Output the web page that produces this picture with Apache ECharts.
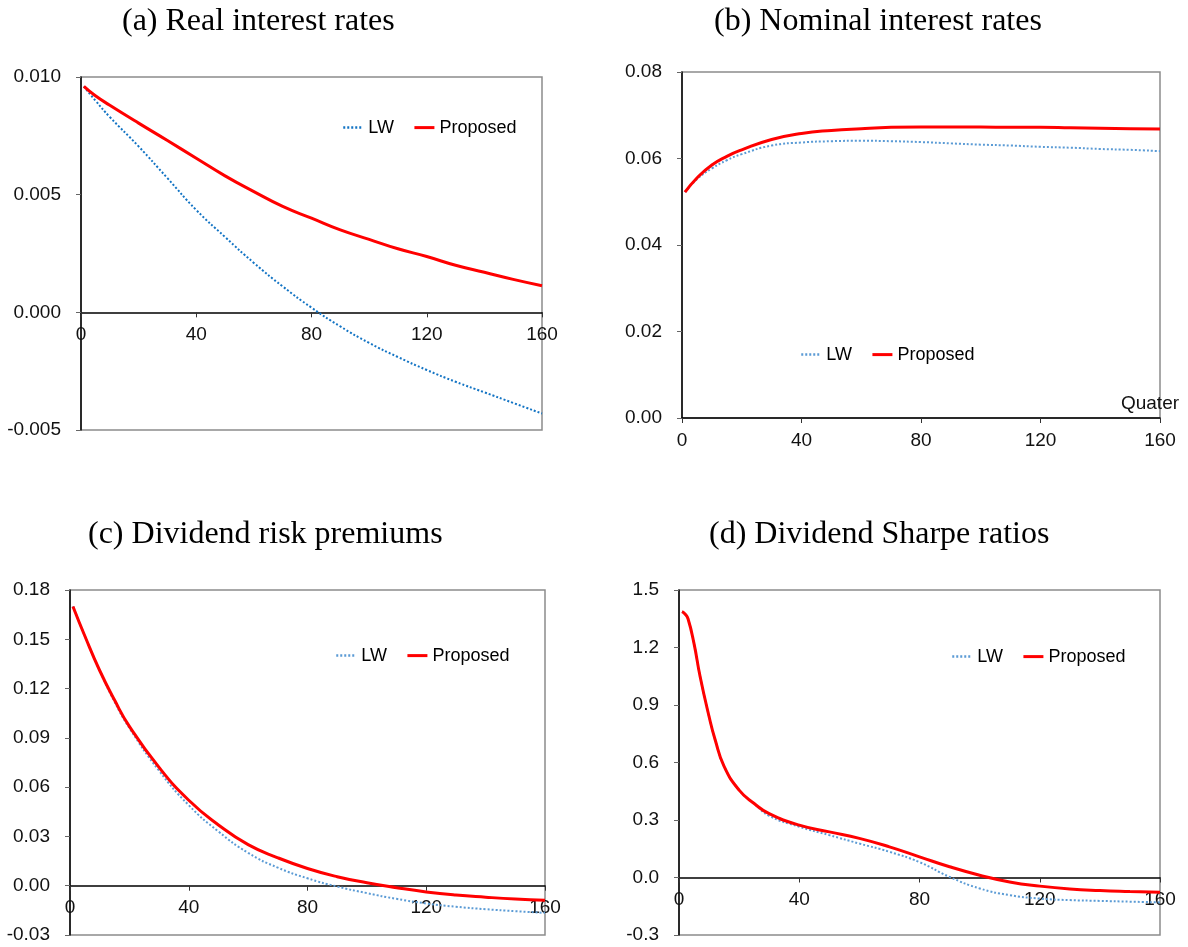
<!DOCTYPE html>
<html>
<head>
<meta charset="utf-8">
<script src="https://cdn.jsdelivr.net/npm/echarts@6/dist/echarts.min.js"></script>
<style>
  html, body { margin: 0; padding: 0; background: #fff; }
  #container { width: 1188px; height: 947px; }
</style>
</head>
<body>
<div id="container"></div>
<script>
// quarters sampled for each panel
var quartersA = [1, 5, 10, 20, 30, 40, 50, 60, 70, 80, 90, 100, 110, 120, 130, 140, 150, 160];
var realLW = [0.0096, 0.0090, 0.0083, 0.00705, 0.0057, 0.00435, 0.0032, 0.0021, 0.0011, 0.0002, -0.0006, -0.0013, -0.0019, -0.00245, -0.00295, -0.0034, -0.00385, -0.0043];
var realProposed = [0.0096, 0.0092, 0.0088, 0.00804, 0.0073, 0.00655, 0.0058, 0.00513, 0.0045, 0.0040, 0.0035, 0.0031, 0.0027, 0.00237, 0.0020, 0.0017, 0.0014, 0.00113];

var quartersB = [1, 5, 10, 15, 20, 30, 40, 50, 60, 70, 80, 90, 100, 110, 120, 130, 140, 150, 160];
var nominalLW = [0.0522, 0.0552, 0.0577, 0.0596, 0.0610, 0.0630, 0.0637, 0.0640, 0.0641, 0.0640, 0.0638, 0.0635, 0.0632, 0.0630, 0.0627, 0.0625, 0.0622, 0.0620, 0.0617];
var nominalProposed = [0.0522, 0.0555, 0.0585, 0.0605, 0.0620, 0.0644, 0.0658, 0.0665, 0.0669, 0.0672, 0.0673, 0.0673, 0.0673, 0.0672, 0.0672, 0.0671, 0.0670, 0.0669, 0.0668];

var quartersC = [1, 5, 10, 15, 20, 30, 40, 50, 60, 70, 80, 90, 100, 110, 120, 130, 140, 150, 160];
var premiumLW = [0.170, 0.152, 0.131, 0.112, 0.096, 0.070, 0.049, 0.033, 0.020, 0.011, 0.0045, -0.0005, -0.0045, -0.0080, -0.0108, -0.0128, -0.0143, -0.0155, -0.0165];
var premiumProposed = [0.170, 0.152, 0.131, 0.113, 0.097, 0.072, 0.052, 0.037, 0.025, 0.017, 0.0105, 0.0055, 0.0018, -0.0012, -0.0038, -0.0057, -0.0070, -0.0081, -0.0089];

var quartersD = [1, 2, 3, 5, 7, 10, 12, 15, 20, 25, 30, 40, 50, 60, 70, 80, 90, 100, 110, 120, 130, 140, 150, 160];
var sharpeLW = [1.387, 1.375, 1.35, 1.22, 1.05, 0.84, 0.72, 0.58, 0.456, 0.386, 0.322, 0.265, 0.221, 0.177, 0.134, 0.08, 0.003, -0.057, -0.092, -0.110, -0.118, -0.122, -0.126, -0.130];
var sharpeProposed = [1.387, 1.375, 1.35, 1.22, 1.05, 0.84, 0.72, 0.58, 0.456, 0.386, 0.333, 0.273, 0.238, 0.204, 0.160, 0.108, 0.056, 0.012, -0.023, -0.045, -0.060, -0.068, -0.073, -0.077];

var titles = ['(a) Real interest rates', '(b) Nominal interest rates', '(c) Dividend risk premiums', '(d) Dividend Sharpe ratios'];
var xTicks = { min: 0, max: 160, interval: 40 };

function pairs(xs, ys) {
    return xs.map(function (x, i) { return [x, ys[i]]; });
}

var panels = [
    { grid: { left: 81, top: 77, width: 461, height: 353 }, title: { left: 117, top: 1 },
      y: { min: -0.005, max: 0.010, interval: 0.005, digits: 3 },
      legend: { left: 337, top: 113 }, lwColor: '#1374c4',
      x: quartersA, lw: realLW, prop: realProposed },
    { grid: { left: 682, top: 72, width: 478, height: 346 }, title: { left: 709, top: 1 },
      y: { min: 0, max: 0.08, interval: 0.02, digits: 2 },
      legend: { left: 795, top: 340 }, lwColor: '#5b9bd5', name: 'Quater',
      x: quartersB, lw: nominalLW, prop: nominalProposed },
    { grid: { left: 70, top: 590, width: 475, height: 345 }, title: { left: 83, top: 514 },
      y: { min: -0.03, max: 0.18, interval: 0.03, digits: 2 },
      legend: { left: 330, top: 641 }, lwColor: '#5b9bd5',
      x: quartersC, lw: premiumLW, prop: premiumProposed },
    { grid: { left: 679, top: 590, width: 481, height: 345 }, title: { left: 704, top: 514 },
      y: { min: -0.3, max: 1.5, interval: 0.3, digits: 1 },
      legend: { left: 946, top: 642 }, lwColor: '#5b9bd5',
      x: quartersD, lw: sharpeLW, prop: sharpeProposed }
];

var sans = 'Liberation Sans, Arial, sans-serif';
var labelFont = { fontFamily: sans, fontSize: 19, color: '#111' };

var option = { animation: false, title: [], grid: [], xAxis: [], yAxis: [], legend: [], series: [] };

panels.forEach(function (p, i) {
    // x axis sits on the zero line: shift it up from the grid bottom
    var zeroShift = -p.grid.height * (0 - p.y.min) / (p.y.max - p.y.min);
    option.title.push({
        text: titles[i], left: p.title.left, top: p.title.top,
        textStyle: { fontFamily: 'Liberation Serif, serif', fontWeight: 'normal', fontSize: 32, color: '#000' }
    });
    option.grid.push({
        left: p.grid.left, top: p.grid.top, width: p.grid.width, height: p.grid.height,
        outerBoundsMode: 'none', containLabel: false,
        show: true, borderColor: '#8c8c8c', borderWidth: 1.5
    });
    option.xAxis.push({
        type: 'value', gridIndex: i, min: xTicks.min, max: xTicks.max, interval: xTicks.interval,
        position: 'bottom', offset: zeroShift,
        axisLine: { onZero: false, lineStyle: { color: '#000', width: 1.5 } },
        axisTick: { show: true, length: 5, lineStyle: { color: '#333' } },
        axisLabel: Object.assign({ margin: 13 }, labelFont),
        splitLine: { show: false },
        name: p.name || '', nameLocation: 'end', nameGap: -10,
        nameTextStyle: Object.assign({ align: 'center', verticalAlign: 'bottom', padding: [0, 0, 5, 0] }, labelFont)
    });
    option.yAxis.push({
        type: 'value', gridIndex: i, min: p.y.min, max: p.y.max, interval: p.y.interval,
        axisLine: { show: true, onZero: false, lineStyle: { color: '#000', width: 1.5 } },
        axisTick: { show: true, length: 5, lineStyle: { color: '#666' } },
        axisLabel: Object.assign({
            margin: 20,
            formatter: (function (d) { return function (v) { return v.toFixed(d); }; })(p.y.digits)
        }, labelFont),
        splitLine: { show: false }
    });
    option.legend.push({
        left: p.legend.left, top: p.legend.top, itemWidth: 20, itemHeight: 24, itemGap: 19,
        itemStyle: { opacity: 0 },
        textStyle: { fontFamily: sans, fontSize: 18, color: '#000' },
        data: [
            { name: 'LW', lineStyle: { color: p.lwColor, type: [2, 2], width: 2.5 } },
            { name: 'Proposed', lineStyle: { color: '#ff0000', width: 3 } }
        ]
    });
    option.series.push({
        name: 'LW', type: 'line', xAxisIndex: i, yAxisIndex: i, symbol: 'none', smooth: true,
        lineStyle: { color: p.lwColor, width: 2, type: [2, 2] }, itemStyle: { color: p.lwColor },
        data: pairs(p.x, p.lw)
    });
    option.series.push({
        name: 'Proposed', type: 'line', xAxisIndex: i, yAxisIndex: i, symbol: 'none', smooth: true,
        lineStyle: { color: '#ff0000', width: 3 }, itemStyle: { color: '#ff0000' },
        data: pairs(p.x, p.prop)
    });
});

var dom = document.getElementById('container');
var myChart = echarts.init(dom);
myChart.setOption(option);
</script>
</body>
</html>
